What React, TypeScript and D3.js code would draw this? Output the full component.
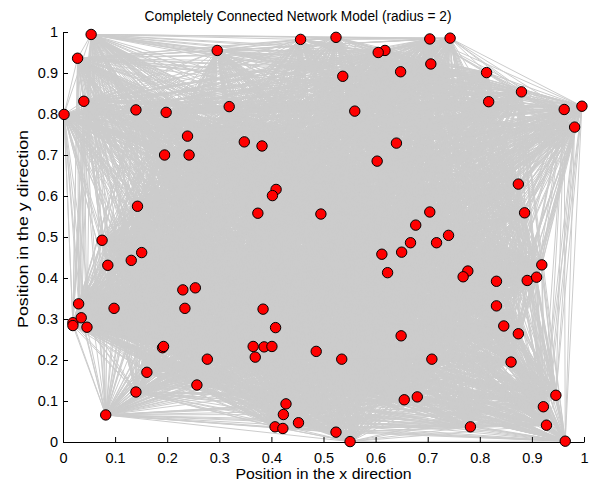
import React, { useRef, useEffect } from 'react';
import * as d3 from 'd3';

const W = 594;
const H = 490;

const title = 'Completely Connected Network Model (radius = 2)';
const xLabel = 'Position in the x direction';
const yLabel = 'Position in the y direction';
const ticks = [0, 0.1, 0.2, 0.3, 0.4, 0.5, 0.6, 0.7, 0.8, 0.9, 1];

// node positions
const xs = [
  0.054, 0.028, 0.040, 0.002, 0.140, 0.198, 0.296, 0.319, 0.239, 0.195,
  0.242, 0.143, 0.075, 0.456, 0.524, 0.618, 0.605, 0.648, 0.537, 0.560,
  0.348, 0.382, 0.640, 0.603, 0.409, 0.402, 0.374, 0.495, 0.704, 0.743,
  0.706, 0.813, 0.880, 0.817, 0.962, 0.996, 0.982, 0.874, 0.886, 0.704,
  0.677, 0.740, 0.667, 0.717, 0.086, 0.131, 0.151, 0.230, 0.254, 0.234,
  0.030, 0.098, 0.019, 0.035, 0.046, 0.019, 0.191, 0.193, 0.277, 0.161,
  0.257, 0.140, 0.082, 0.612, 0.650, 0.623, 0.384, 0.408, 0.365, 0.386,
  0.401, 0.369, 0.486, 0.535, 0.649, 0.655, 0.428, 0.423, 0.452, 0.407,
  0.422, 0.524, 0.551, 0.777, 0.768, 0.832, 0.891, 0.909, 0.919, 0.832,
  0.846, 0.874, 0.708, 0.860, 0.680, 0.782, 0.946, 0.922, 0.928, 0.964,
];
const ys = [
  0.994, 0.936, 0.831, 0.799, 0.810, 0.804, 0.955, 0.818, 0.746, 0.700,
  0.700, 0.575, 0.492, 0.982, 0.987, 0.955, 0.950, 0.903, 0.892, 0.807,
  0.732, 0.722, 0.729, 0.685, 0.616, 0.601, 0.558, 0.556, 0.983, 0.985,
  0.922, 0.901, 0.854, 0.830, 0.811, 0.819, 0.768, 0.629, 0.559, 0.561,
  0.529, 0.504, 0.486, 0.486, 0.431, 0.443, 0.462, 0.371, 0.376, 0.326,
  0.337, 0.326, 0.291, 0.303, 0.280, 0.284, 0.230, 0.233, 0.202, 0.170,
  0.139, 0.122, 0.066, 0.458, 0.463, 0.413, 0.324, 0.279, 0.233, 0.232,
  0.233, 0.207, 0.221, 0.202, 0.259, 0.103, 0.093, 0.067, 0.047, 0.037,
  0.033, 0.024, 0.001, 0.417, 0.403, 0.392, 0.394, 0.402, 0.432, 0.332,
  0.283, 0.264, 0.202, 0.195, 0.110, 0.037, 0.114, 0.086, 0.041, 0.002,
];

const App = () => {
  const svgRef = useRef<SVGSVGElement>(null);

  useEffect(() => {
    draw();
  }, []);

  const draw = () => {
    const svg = d3.select(svgRef.current);
    svg.selectAll('*').remove();

    const margin = { top: 32, right: 10, bottom: 48, left: 63 };
    const x = d3.scaleLinear().domain([0, 1]).range([margin.left, W - margin.right]);
    const y = d3.scaleLinear().domain([0, 1]).range([H - margin.bottom, margin.top]);

    const nodes = xs.map((v, i) => ({ x: v, y: ys[i] }));

    // every pair is connected
    const path = d3.path();
    for (let i = 0; i < nodes.length; i++) {
      for (let j = i + 1; j < nodes.length; j++) {
        path.moveTo(x(nodes[i].x), y(nodes[i].y));
        path.lineTo(x(nodes[j].x), y(nodes[j].y));
      }
    }
    svg
      .append('path')
      .attr('d', path.toString())
      .attr('fill', 'none')
      .attr('stroke', '#cccccc')
      .attr('stroke-width', 1);

    const font = '"Liberation Sans", Arial, sans-serif';

    const xAxis = d3
      .axisBottom(x)
      .tickValues(ticks)
      .tickFormat((d) => d3.format('~g')(d as number))
      .tickSizeInner(-5)
      .tickSizeOuter(0)
      .tickPadding(11);
    const yAxis = d3
      .axisLeft(y)
      .tickValues(ticks)
      .tickFormat((d) => d3.format('~g')(d as number))
      .tickSizeInner(-5)
      .tickSizeOuter(0)
      .tickPadding(5);

    const gx = svg
      .append('g')
      .attr('transform', `translate(0, ${y(0)})`)
      .call(xAxis);
    const gy = svg
      .append('g')
      .attr('transform', `translate(${x(0)}, 0)`)
      .call(yAxis);
    [gx, gy].forEach((g) => {
      g.selectAll('text').attr('font-family', font).attr('font-size', 14.5).attr('fill', '#000');
      g.selectAll('line').attr('stroke', '#000');
      g.select('.domain').attr('stroke', '#000');
    });

    svg
      .selectAll('.node')
      .data(nodes)
      .enter()
      .append('circle')
      .attr('class', 'node')
      .attr('cx', (d) => x(d.x))
      .attr('cy', (d) => y(d.y))
      .attr('r', 5.2)
      .attr('fill', '#ff0000')
      .attr('stroke', '#000')
      .attr('stroke-width', 1);

    // title looks a bit taller than wide in the original, stretch it a little
    svg
      .append('text')
      .attr('transform', 'translate(298, 21) scale(1, 1.12)')
      .attr('text-anchor', 'middle')
      .attr('font-family', font)
      .attr('font-size', 13.7)
      .text(title);

    svg
      .append('text')
      .attr('x', (x(0) + x(1)) / 2)
      .attr('y', 479)
      .attr('text-anchor', 'middle')
      .attr('font-family', font)
      .attr('font-size', 15.5)
      .attr('textLength', 176)
      .attr('lengthAdjust', 'spacingAndGlyphs')
      .text(xLabel);

    svg
      .append('text')
      .attr('transform', `translate(28, 229) rotate(-90)`)
      .attr('text-anchor', 'middle')
      .attr('font-family', font)
      .attr('font-size', 15)
      .attr('textLength', 198)
      .attr('lengthAdjust', 'spacingAndGlyphs')
      .text(yLabel);
  };

  return (
    <svg
      ref={svgRef}
      width={W}
      height={H}
      style={{ position: 'absolute', left: 0, top: 0, background: '#fff' }}
    ></svg>
  );
};

export default App;
